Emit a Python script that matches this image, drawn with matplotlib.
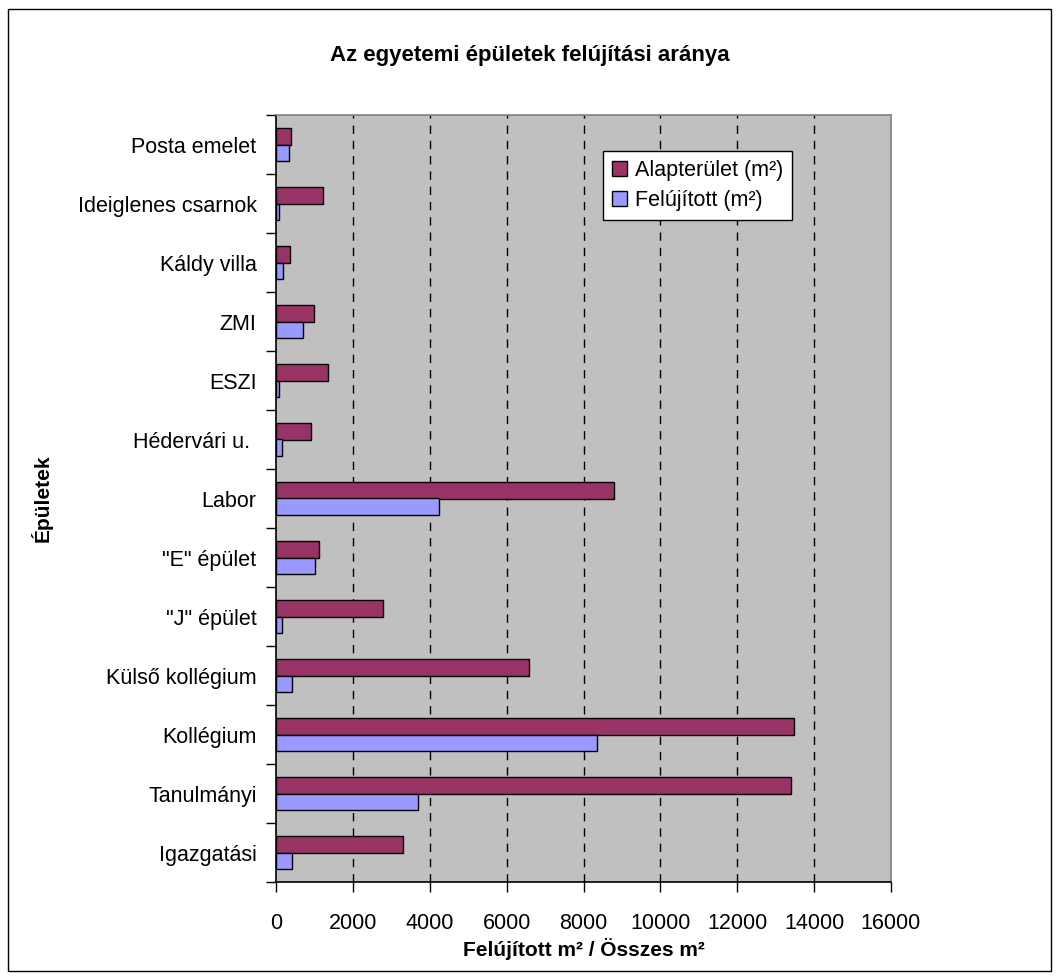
import matplotlib
matplotlib.use("Agg")
import matplotlib.pyplot as plt
from matplotlib.patches import Rectangle
import numpy as np

plt.rcParams['font.family'] = ['Liberation Sans', 'DejaVu Sans']
plt.rcParams['lines.scale_dashes'] = False

# data, bottom to top as in the chart
buildings = ['Igazgatási', 'Tanulmányi', 'Kollégium', 'Külső kollégium', '"J" épület',
             '"E" épület', 'Labor', 'Hédervári u. ', 'ESZI', 'ZMI', 'Káldy villa',
             'Ideiglenes csarnok', 'Posta emelet']
alapterulet = [3300, 13400, 13480, 6580, 2790, 1130, 8800, 900, 1340, 980, 355, 1210, 400]
felujitott = [420, 3700, 8360, 420, 150, 1020, 4240, 150, 80, 700, 190, 80, 350]
x_ticks = [0, 2000, 4000, 6000, 8000, 10000, 12000, 14000, 16000]

fig = plt.figure(figsize=(10.6, 9.8), dpi=100)
fig.patches.append(Rectangle((8 / 1060, 9 / 980), 1043 / 1060, 962 / 980,
                             transform=fig.transFigure, fill=False,
                             edgecolor='black', linewidth=1.0))

ax = fig.add_axes([276 / 1060, 1 - 882 / 980, 615 / 1060, 767 / 980])
ax.set_facecolor('#C0C0C0')

y = np.arange(len(buildings))
h = 0.28
ax.barh(y + h / 2, alapterulet, height=h, color='#993366', edgecolor='black',
        linewidth=1.0, label='Alapterület (m²)', zorder=3)
ax.barh(y - h / 2, felujitott, height=h, color='#9999FF', edgecolor='black',
        linewidth=1.0, label='Felújított (m²)', zorder=3)

ax.set_xlim(0, 16000)
ax.set_ylim(-0.5, len(buildings) - 0.5)
ax.set_xticks(x_ticks)
for xv in x_ticks[1:-1]:
    ax.axvline(xv, color='black', linewidth=1.0, dashes=(6, 5), zorder=1)

ax.set_yticks(y)
ax.set_yticklabels(buildings)
ax.set_yticks(np.arange(-0.5, len(buildings), 1.0), minor=True)
ax.tick_params(axis='y', which='major', length=0, pad=14, labelsize=15.5)
ax.tick_params(axis='y', which='minor', length=7, width=1, direction='out')
ax.tick_params(axis='x', length=7, width=1, direction='out', pad=15, labelsize=15.5)

for s in ['left', 'bottom']:
    ax.spines[s].set_color('black')
    ax.spines[s].set_linewidth(1.2)
for s in ['top', 'right']:
    ax.spines[s].set_color('#808080')
    ax.spines[s].set_linewidth(1.2)

ax.set_xlabel('Felújított m² / Összes m²', fontsize=15, fontweight='bold', labelpad=3)
ax.set_ylabel('Épületek', fontsize=15, fontweight='bold', labelpad=18)
fig.text(530 / 1060, 1 - 56 / 980, 'Az egyetemi épületek felújítási aránya',
         ha='center', va='center', fontsize=16, fontweight='bold')

leg = ax.legend(loc='upper left', bbox_to_anchor=(0.532, 0.953), borderaxespad=0,
                fancybox=False, edgecolor='black', framealpha=1, fontsize=15.5,
                handlelength=0.7, handleheight=0.7, handletextpad=0.4,
                borderpad=0.4, labelspacing=0.45)
leg.get_frame().set_linewidth(1.0)

fig.savefig('out.png', dpi=100)
